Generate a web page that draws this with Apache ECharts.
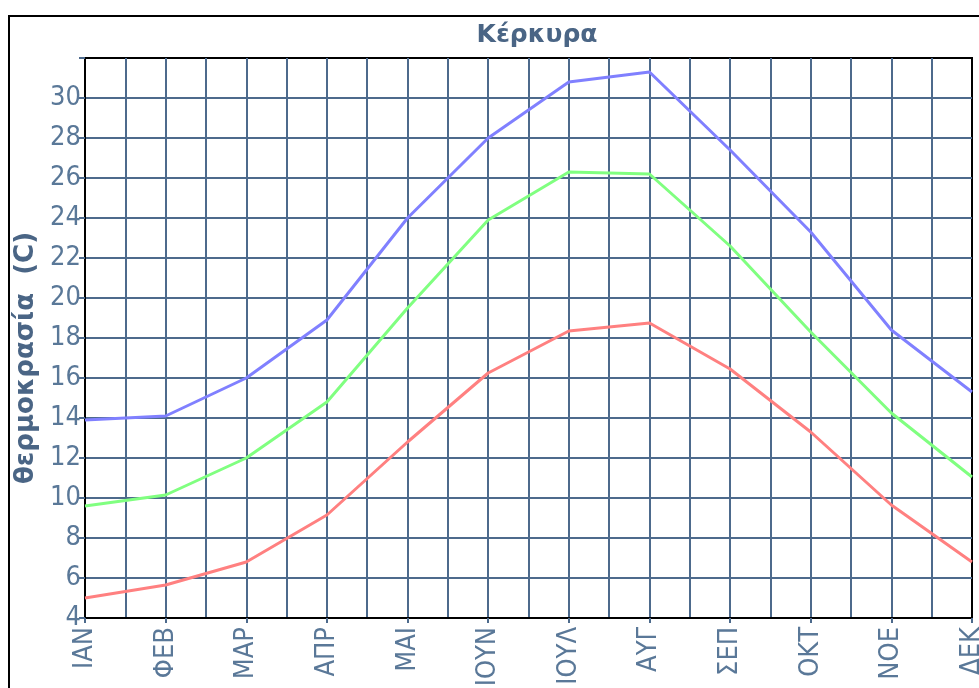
<!DOCTYPE html>
<html>
<head>
<meta charset="utf-8">
<script src="https://cdn.jsdelivr.net/npm/echarts@6/dist/echarts.min.js"></script>
<style>html,body{margin:0;padding:0;background:#fff;}#c{width:979px;height:688px;}</style>
</head>
<body>
<div id="c"></div>
<script>
const months = ['ΙΑΝ','ΦΕΒ','ΜΑΡ','ΑΠΡ','ΜΑΙ','ΙΟΥΝ','ΙΟΥΛ','ΑΥΓ','ΣΕΠ','ΟΚΤ','ΝΟΕ','ΔΕΚ'];
const maxTemp  = [13.9, 14.1, 16.0, 18.9, 24.0, 28.0, 30.8, 31.3, 27.4, 23.3, 18.4, 15.3];
const meanTemp = [9.6, 10.15, 12.0, 14.8, 19.5, 23.9, 26.3, 26.2, 22.6, 18.3, 14.25, 11.05];
const minTemp  = [5.0, 5.65, 6.8, 9.15, 12.8, 16.25, 18.35, 18.75, 16.45, 13.3, 9.65, 6.8];
const yTicks = {min: 4, max: 32, step: 2};
const titleText = 'Κέρκυρα';
const yName = 'θερμοκρασία  (C)';

const labelFont = "'Liberation Sans Narrow', 'DejaVu Sans Condensed', sans-serif";
const gridColor = '#4d6a8c';
const chart = echarts.init(document.getElementById('c'), null, {renderer: 'canvas'});
const toPts = arr => arr.map((v, i) => [i, v]);
chart.setOption({
  animation: false,
  backgroundColor: '#fff',
  title: {
    text: titleText, left: 532, top: 18, textAlign: 'center',
    textStyle: {fontFamily: 'DejaVu Sans', fontWeight: 'bold', fontSize: 25, color: '#4a6585'}
  },
  graphic: [
    {type: 'rect', shape: {x: 9, y: 16, width: 1000, height: 700}, style: {fill: 'none', stroke: '#000', lineWidth: 2}, silent: true},
    {type: 'text', x: 26, y: 358, rotation: Math.PI / 2,
     style: {text: yName, align: 'center', verticalAlign: 'middle', fontFamily: 'DejaVu Sans', fontWeight: 'bold', fontSize: 26, fill: '#4a6585'}}
  ],
  grid: {left: 85, top: 58, right: 7, bottom: 70, outerBoundsMode: 'none', containLabel: false, show: true, borderColor: '#000', borderWidth: 2, backgroundColor: 'transparent'},
  xAxis: {
    type: 'value', min: 0, max: months.length - 1, interval: 1,
    axisLine: {show: true, onZero: false, lineStyle: {color: '#000', width: 2}},
    axisTick: {show: true, length: 5, lineStyle: {color: gridColor, width: 2}},
    minorTick: {show: false, splitNumber: 2},
    splitLine: {show: true, showMinLine: false, showMaxLine: false, lineStyle: {color: gridColor, width: 2}},
    minorSplitLine: {show: true, lineStyle: {color: gridColor, width: 2}},
    axisLabel: {
      rotate: 90, margin: 9, fontFamily: labelFont, fontSize: 27, color: '#5a7898',
      formatter: v => months[v] || ''
    }
  },
  yAxis: {
    type: 'value', min: yTicks.min, max: yTicks.max, interval: yTicks.step,
    axisLine: {show: true, onZero: false, lineStyle: {color: '#000', width: 2}},
    axisTick: {show: true, length: 6, lineStyle: {color: gridColor, width: 2}},
    splitLine: {show: true, showMinLine: false, showMaxLine: false, lineStyle: {color: gridColor, width: 2}},
    axisLabel: {
      margin: 4, fontFamily: labelFont, fontSize: 27, color: '#5a7898',
      formatter: v => (v === yTicks.max ? '' : String(v))
    }
  },
  series: [
    {name: 'max', type: 'line', data: toPts(maxTemp), showSymbol: false, lineStyle: {color: '#8080ff', width: 3}, z: 5},
    {name: 'mean', type: 'line', data: toPts(meanTemp), showSymbol: false, lineStyle: {color: '#80ff80', width: 3}, z: 5},
    {name: 'min', type: 'line', data: toPts(minTemp), showSymbol: false, lineStyle: {color: '#ff8080', width: 3}, z: 5}
  ]
});
</script>
</body>
</html>
